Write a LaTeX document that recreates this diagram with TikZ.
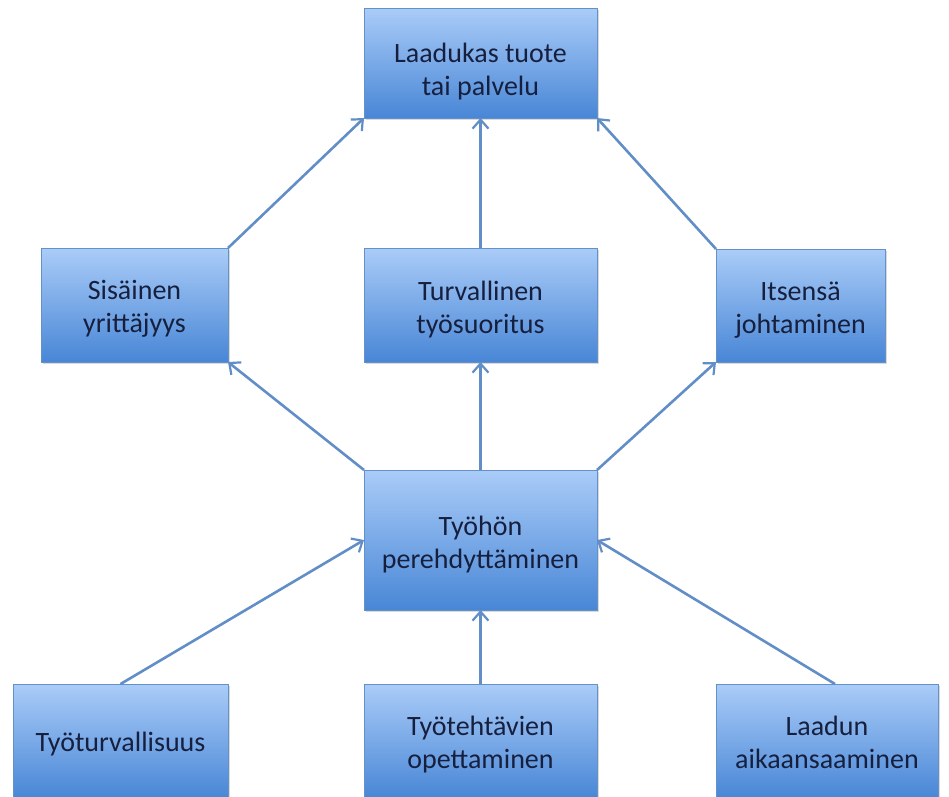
\documentclass[tikz,border=0pt]{standalone}
\usepackage{fontspec}
\setmainfont{Carlito}
\usetikzlibrary{arrows.meta,shadows}
\definecolor{boxtop}{RGB}{170,204,248}
\definecolor{boxbot}{RGB}{72,134,214}
\definecolor{boxline}{RGB}{100,145,200}
\definecolor{arrowc}{RGB}{98,142,200}
\definecolor{txt}{RGB}{22,32,62}
\newcommand\tx[2][-5pt]{\raisebox{#1}[\height][\depth]{\begin{tabular}{@{}c@{}}#2\end{tabular}}}
\tikzset{
  box/.style={rectangle, draw=boxline, line width=0.8pt, top color=boxtop, bottom color=boxbot,
    text=txt, outer sep=0pt, inner sep=2pt,
    font=\fontsize{28pt}{33pt}\selectfont,
    drop shadow={shadow xshift=1.5pt, shadow yshift=-2pt, opacity=0.25, fill=black!60}},
  conn/.style={draw=arrowc, line width=2.6pt, -{Straight Barb[length=9pt,width=16pt,line width=2.2pt]}}
}
\begin{document}
\begin{tikzpicture}[x=1pt,y=-1pt]
\useasboundingbox (0,0) rectangle (949,796);
\clip (0,0) rectangle (949,796);
\node[box, minimum width=233pt, minimum height=110pt] (top) at (480.5,63) {\tx[-9pt]{Laadukas tuote\\tai palvelu}};
\node[box, minimum width=187pt, minimum height=114pt] (sis) at (134.5,305) {\tx[-4pt]{Sisäinen\\yrittäjyys}};
\node[box, minimum width=233pt, minimum height=114pt] (tur) at (480.5,305) {\tx{Turvallinen\\työsuoritus}};
\node[box, minimum width=169pt, minimum height=113pt] (its) at (800.5,305.5) {\tx{Itsensä\\johtaminen}};
\node[box, minimum width=233pt, minimum height=140pt] (tyo) at (480.5,540) {\tx{Työhön\\perehdyttäminen}};
\node[box, minimum width=215pt, minimum height=114pt] (tt) at (120.5,741) {\tx[-4pt]{Työturvallisuus}};
\node[box, minimum width=233pt, minimum height=114pt] (teh) at (480.5,741) {\tx[-4pt]{Työtehtävien\\opettaminen}};
\node[box, minimum width=222pt, minimum height=114pt] (laa) at (827,741) {\tx[-4pt]{Laadun\\aikaansaaminen}};
\draw[conn] (sis.north east) -- (top.south west);
\draw[conn] (tur.north) -- (top.south);
\draw[conn] (its.north west) -- (top.south east);
\draw[conn] (tyo.north west) -- (sis.south east);
\draw[conn] (tyo.north) -- (tur.south);
\draw[conn] (tyo.north east) -- (its.south west);
\draw[conn] (tt.north) -- (tyo.west);
\draw[conn] (teh.north) -- (tyo.south);
\draw[conn] ([xshift=8pt]laa.north) -- (tyo.east);
\end{tikzpicture}
\end{document}
